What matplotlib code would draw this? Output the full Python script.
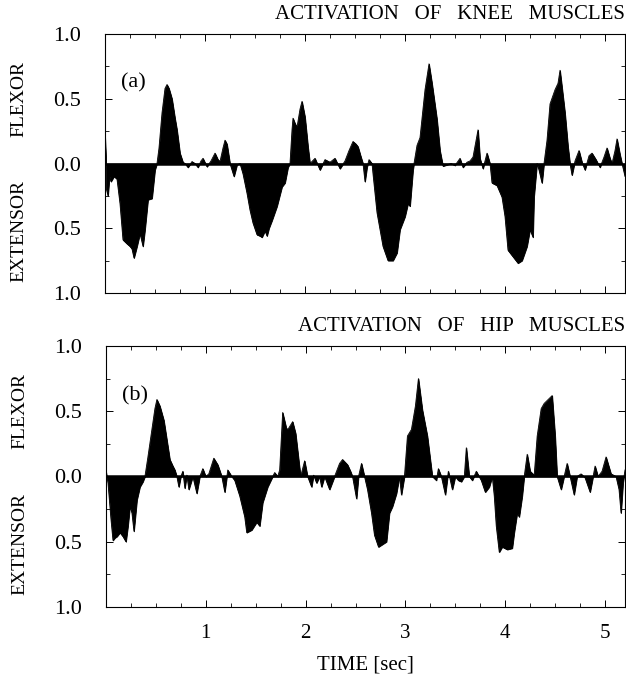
import matplotlib
matplotlib.use("Agg")
import matplotlib.pyplot as plt
from matplotlib.ticker import FuncFormatter, MultipleLocator, FixedLocator

plt.rcParams['font.family'] = ['Liberation Serif', 'DejaVu Serif']

# knee muscles: time [s] and activation (+ flexor, - extensor)
knee_t = [0.00, 0.01, 0.015, 0.03, 0.045, 0.06, 0.09, 0.12, 0.15, 0.18, 0.22, 0.25, 0.27, 0.29,
          0.32, 0.35, 0.38, 0.40, 0.43, 0.47, 0.50, 0.52, 0.54, 0.57, 0.60, 0.62, 0.64, 0.67,
          0.70, 0.72, 0.75, 0.78, 0.80, 0.83, 0.87, 0.90, 0.93, 0.96, 0.98, 1.02, 1.06, 1.10,
          1.13, 1.15, 1.18, 1.20, 1.22, 1.25, 1.29, 1.32, 1.35, 1.38, 1.42, 1.45, 1.48, 1.52,
          1.55, 1.57, 1.60, 1.62, 1.64, 1.67, 1.72, 1.77, 1.80, 1.83, 1.85, 1.87, 1.88, 1.90,
          1.92, 1.95, 1.97, 2.00, 2.03, 2.05, 2.10, 2.15, 2.20, 2.25, 2.30, 2.35, 2.40, 2.44,
          2.48, 2.51, 2.53, 2.56, 2.58, 2.60, 2.62, 2.64, 2.67, 2.68, 2.72, 2.75, 2.78, 2.83,
          2.88, 2.92, 2.95, 3.00, 3.03, 3.05, 3.08, 3.09, 3.12, 3.15, 3.20, 3.24, 3.27, 3.32,
          3.35, 3.38, 3.42, 3.46, 3.50, 3.55, 3.58, 3.62, 3.65, 3.68, 3.73, 3.75, 3.78, 3.82,
          3.85, 3.87, 3.92, 3.97, 4.00, 4.03, 4.08, 4.13, 4.17, 4.22, 4.25, 4.28, 4.29, 4.32,
          4.34, 4.37, 4.39, 4.42, 4.45, 4.50, 4.53, 4.55, 4.57, 4.60, 4.63, 4.65, 4.67, 4.70,
          4.74, 4.77, 4.80, 4.84, 4.87, 4.91, 4.95, 4.99, 5.02, 5.05, 5.07, 5.10, 5.12, 5.15,
          5.17, 5.20]
knee_v = [0.22, 0.05, -0.20, -0.25, -0.10, -0.14, -0.10, -0.12, -0.31, -0.59, -0.62, -0.64, -0.66, -0.73,
          -0.64, -0.54, -0.64, -0.51, -0.28, -0.27, -0.05, 0.00, 0.12, 0.39, 0.58, 0.61, 0.58, 0.50,
          0.35, 0.26, 0.08, 0.01, 0.00, -0.03, 0.015, 0.00, -0.03, 0.02, 0.04, -0.025, 0.02, 0.08,
          0.03, 0.015, 0.12, 0.18, 0.15, 0.00, -0.10, -0.01, 0.00, -0.08, -0.23, -0.36, -0.46, -0.55,
          -0.56, -0.57, -0.52, -0.56, -0.50, -0.44, -0.33, -0.18, -0.15, -0.03, 0.00, 0.26, 0.35, 0.31,
          0.28, 0.42, 0.48, 0.36, 0.13, 0.00, 0.04, -0.05, 0.03, 0.01, 0.04, -0.04, 0.02, 0.10,
          0.17, 0.15, 0.13, 0.05, 0.00, -0.14, -0.03, 0.03, 0.00, -0.08, -0.38, -0.51, -0.64, -0.75,
          -0.75, -0.69, -0.51, -0.41, -0.31, -0.33, -0.05, 0.00, 0.14, 0.20, 0.57, 0.77, 0.62, 0.34,
          0.10, -0.02, -0.01, 0.00, -0.015, 0.04, -0.03, 0.01, 0.02, 0.05, 0.26, 0.04, -0.04, 0.08,
          0.00, -0.15, -0.17, -0.26, -0.41, -0.67, -0.72, -0.77, -0.75, -0.64, -0.51, -0.57, -0.26, 0.00,
          -0.05, -0.15, 0.00, 0.18, 0.46, 0.57, 0.62, 0.72, 0.59, 0.39, 0.13, 0.00, -0.09, 0.02,
          0.10, 0.01, -0.05, 0.06, 0.08, 0.03, -0.03, 0.05, 0.12, 0.04, 0.00, 0.10, 0.19, 0.07,
          0.00, -0.10]

# hip muscles
hip_t = [0.00, 0.02, 0.05, 0.07, 0.09, 0.11, 0.14, 0.17, 0.20, 0.22, 0.24, 0.26, 0.28, 0.31,
         0.34, 0.37, 0.39, 0.42, 0.46, 0.49, 0.51, 0.54, 0.58, 0.61, 0.64, 0.67, 0.69, 0.71,
         0.73, 0.75, 0.77, 0.79, 0.81, 0.83, 0.87, 0.91, 0.94, 0.97, 1.00, 1.03, 1.08, 1.12,
         1.16, 1.19, 1.22, 1.26, 1.29, 1.34, 1.39, 1.41, 1.46, 1.51, 1.54, 1.57, 1.62, 1.67,
         1.69, 1.72, 1.74, 1.77, 1.81, 1.83, 1.87, 1.90, 1.93, 1.95, 1.99, 2.02, 2.06, 2.08,
         2.11, 2.14, 2.16, 2.19, 2.24, 2.29, 2.34, 2.37, 2.42, 2.45, 2.47, 2.51, 2.53, 2.56,
         2.59, 2.62, 2.66, 2.69, 2.73, 2.77, 2.81, 2.84, 2.87, 2.91, 2.94, 2.96, 2.99, 3.02,
         3.06, 3.10, 3.13, 3.17, 3.22, 3.27, 3.31, 3.33, 3.36, 3.40, 3.43, 3.47, 3.50, 3.53,
         3.56, 3.59, 3.61, 3.64, 3.67, 3.71, 3.76, 3.80, 3.84, 3.87, 3.89, 3.91, 3.94, 3.97,
         4.02, 4.07, 4.09, 4.12, 4.14, 4.17, 4.19, 4.22, 4.25, 4.29, 4.32, 4.36, 4.39, 4.43,
         4.47, 4.50, 4.52, 4.56, 4.59, 4.62, 4.65, 4.69, 4.72, 4.76, 4.80, 4.85, 4.90, 4.93,
         4.97, 5.01, 5.06, 5.11, 5.14, 5.16, 5.18, 5.20]
hip_v = [0.04, -0.05, -0.33, -0.49, -0.47, -0.46, -0.43, -0.46, -0.50, -0.38, -0.23, -0.28, -0.42, -0.18,
         -0.08, -0.04, 0.00, 0.15, 0.36, 0.52, 0.59, 0.54, 0.43, 0.28, 0.13, 0.08, 0.05, 0.00,
         -0.08, 0.00, 0.04, -0.09, 0.01, -0.10, 0.00, -0.13, 0.00, 0.06, 0.00, 0.02, 0.14, 0.09,
         0.00, -0.12, 0.05, 0.00, -0.03, -0.15, -0.31, -0.43, -0.41, -0.35, -0.38, -0.20, -0.08, 0.00,
         0.03, 0.00, 0.05, 0.49, 0.36, 0.37, 0.42, 0.33, 0.13, 0.00, 0.12, 0.00, -0.08, 0.01,
         -0.05, 0.00, -0.08, 0.00, -0.10, 0.00, 0.10, 0.13, 0.09, 0.04, 0.00, -0.17, 0.00, 0.10,
         0.00, -0.10, -0.28, -0.45, -0.54, -0.52, -0.50, -0.28, -0.23, -0.13, 0.00, -0.14, 0.00, 0.31,
         0.36, 0.54, 0.75, 0.51, 0.31, 0.00, -0.03, 0.06, 0.00, -0.14, 0.04, -0.10, 0.00, -0.03,
         -0.04, 0.00, 0.22, 0.00, -0.03, 0.04, -0.03, -0.12, -0.08, 0.00, -0.15, -0.38, -0.58, -0.54,
         -0.56, -0.55, -0.43, -0.28, -0.31, -0.15, 0.00, 0.17, 0.04, 0.01, 0.31, 0.52, 0.56, 0.59,
         0.62, 0.31, 0.00, -0.10, 0.00, 0.10, 0.00, -0.14, 0.00, 0.02, -0.01, -0.12, 0.08, 0.00,
         0.04, 0.15, 0.02, 0.00, -0.10, -0.28, -0.05, 0.05]

time_ticks = [1, 2, 3, 4, 5]

panels = [
    (knee_t, knee_v, 'ACTIVATION   OF   KNEE   MUSCLES', '(a)'),
    (hip_t, hip_v, 'ACTIVATION   OF   HIP   MUSCLES', '(b)'),
]

fig = plt.figure(figsize=(6.26, 6.85), dpi=100)
ax_a = fig.add_axes([0.1677, 0.5723, 0.8307, 0.378])
ax_b = fig.add_axes([0.1693, 0.1139, 0.8291, 0.381])

for ax, (t, v, title, tag) in zip([ax_a, ax_b], panels):
    ax.fill_between(t, 0, v, color='black', lw=0.6)
    ax.plot(t, v, color='black', lw=0.6)
    ax.axhline(0, color='black', lw=1.8)

    ax.set_xlim(0, 5.2)
    ax.set_ylim(-1, 1)

    ax.yaxis.set_major_locator(MultipleLocator(0.5))
    ax.yaxis.set_minor_locator(MultipleLocator(0.25))
    ax.xaxis.set_major_locator(FixedLocator(time_ticks))
    ax.xaxis.set_minor_locator(MultipleLocator(0.25))
    ax.yaxis.set_major_formatter(FuncFormatter(lambda y, p: f'{abs(y):.1f}'))
    ax.tick_params(which='both', direction='in', top=True, right=True)
    ax.tick_params(which='major', length=5, width=0.7)
    ax.tick_params(which='minor', length=3, width=0.6)
    ax.tick_params(axis='y', labelsize=16, pad=17)
    ax.tick_params(axis='x', labelsize=15, pad=12)
    for s in ax.spines.values():
        s.set_linewidth(0.8)

    ax.text(0.03, 0.81, tag, transform=ax.transAxes, fontsize=16, va='center', ha='left')
    ax.text(1.0, 1.04, title, transform=ax.transAxes, fontsize=15, ha='right', va='bottom')

    # flexor / extensor labels on the left
    ax.text(-0.165, 0.75, 'FLEXOR', transform=ax.transAxes, rotation=90,
            fontsize=14, ha='center', va='center')
    ax.text(-0.165, 0.24, 'EXTENSOR', transform=ax.transAxes, rotation=90,
            fontsize=14, ha='center', va='center')

ax_a.tick_params(axis='x', labelbottom=False)
ax_b.set_xlabel('TIME [sec]', fontsize=15, labelpad=9)

fig.savefig('out.png', dpi=100)
plt.close(fig)
